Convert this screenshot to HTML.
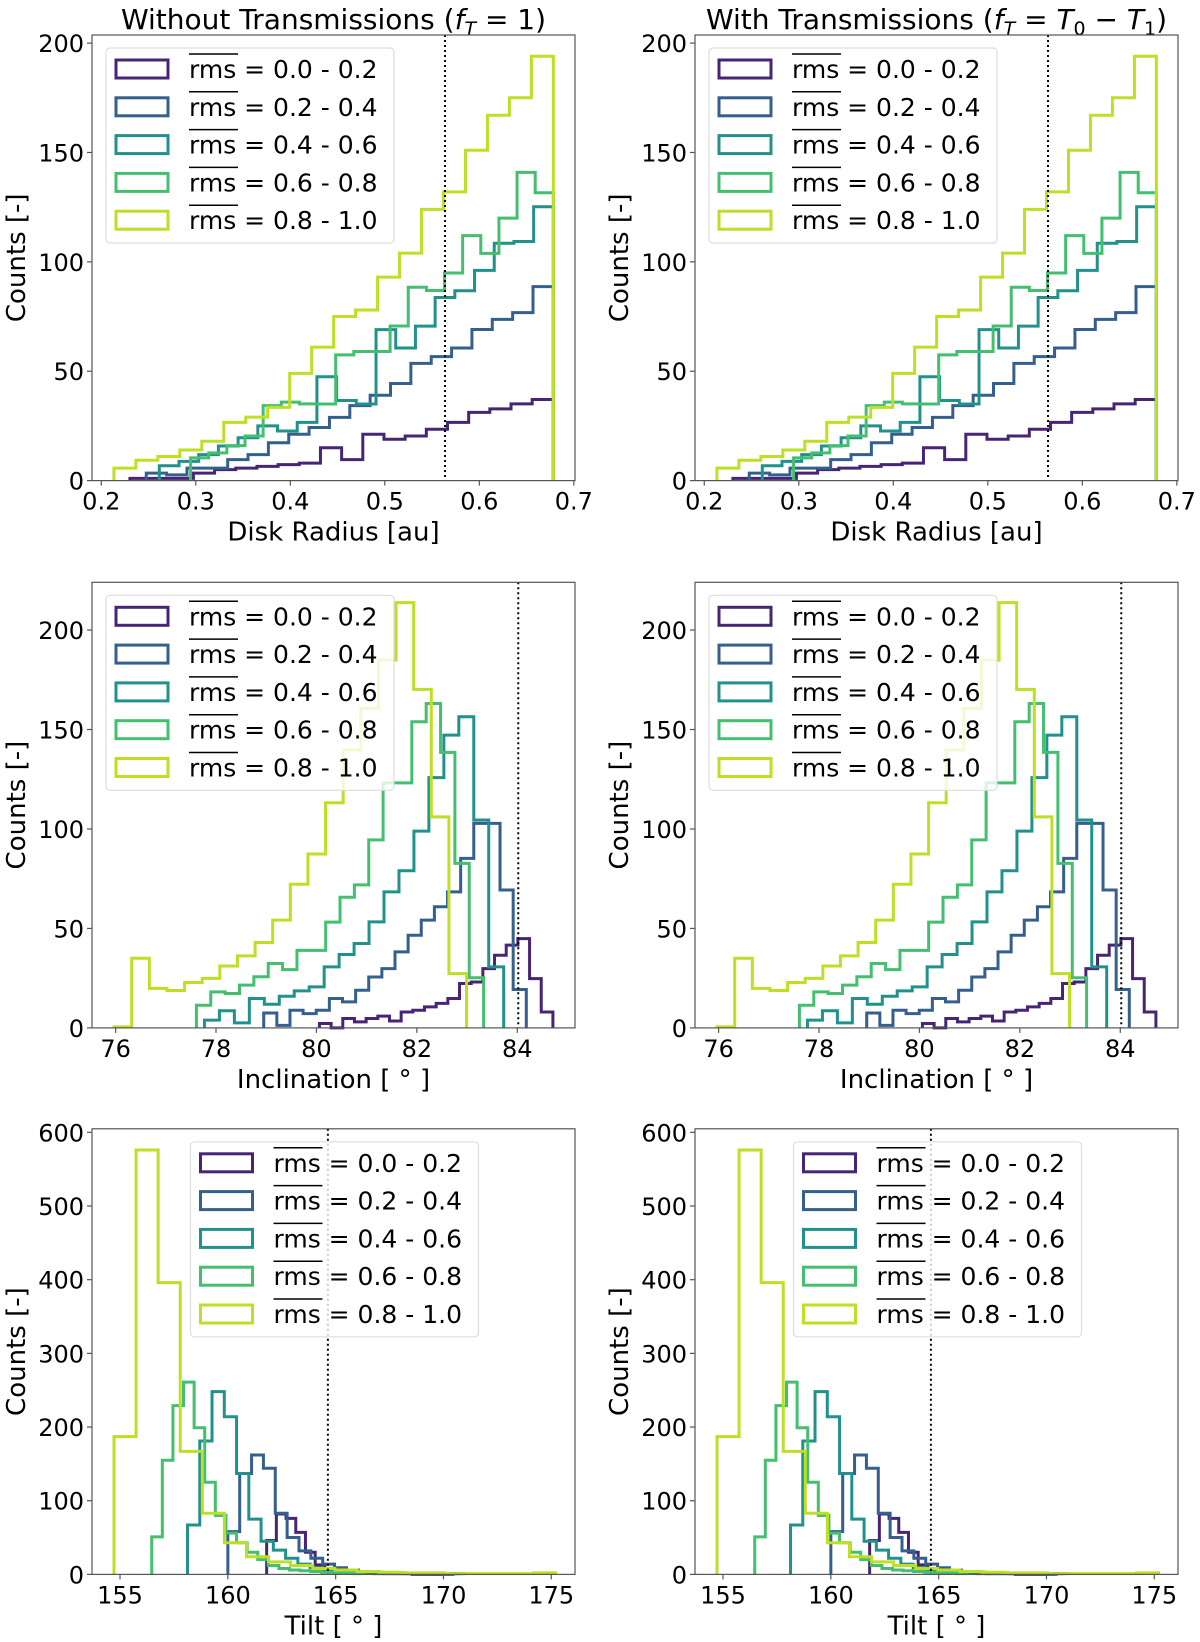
<!DOCTYPE html>
<html><head><meta charset="utf-8">
<style>
html,body{margin:0;padding:0;background:#fff;}
svg{display:block;font-family:"DejaVu Sans","Liberation Sans",sans-serif;}
</style></head>
<body>
<svg id="fig" width="1200" height="1642" viewBox="0 0 1200 1642" xmlns="http://www.w3.org/2000/svg"></svg>
<script>
// ---------- data ----------
const legendLabels = ["0.0 - 0.2","0.2 - 0.4","0.4 - 0.6","0.6 - 0.8","0.8 - 1.0"];
const colors = ["#482475","#355f8d","#21918c","#44bf70","#bddf26"];

// Disk radius histograms (20 bins each), [lo, hi] ranges in au
const radiusRanges = [[0.2303,0.6783],[0.2476,0.6783],[0.2614,0.6783],[0.2945,0.6783],[0.2134,0.6783]];
const radiusP = [1,1,1,3.4,5,5.7,6.5,7.3,8,15,9.6,21.2,18.9,20.4,23.5,26.6,31.2,32.8,35.1,37.1];
const radiusB = [3.4,2.6,5.7,5.7,9.6,11.9,17.3,21.2,24.3,28.9,34.3,39,44.4,53.6,56.7,60.6,69.1,73.7,76.8,88.7];
const radiusT = [6.8,8.8,11.9,15.8,19.6,25,22.7,26.6,47.5,36.6,35,69,60.6,70.6,83.7,86.8,96.1,108.5,109.3,125.2];
const radiusG = [10.4,12.7,16,20.4,34.3,35.9,35.1,35,57.5,59,59,70.7,88.4,86.9,94.9,112,103.9,120,140.9,131.6];
const radiusY = [5.7,9.3,11,14,18,26.6,29,33.5,49,61,75,78,93,104,124,132,151,167,175,194];

// Inclination histograms
const inclRanges = [[80.06,84.71],[78.95,84.18],[77.77,83.73],[77.61,83.33],[75.97,82.99]];
const inclP = [2.2,0,4.7,3,4.7,5.9,3.5,8,8.9,10.6,12.3,14.8,22.3,23.1,29.8,36.5,41.6,44.9,24.8,8];
const inclB = [7.5,1.3,8.9,7.2,8.9,14.8,13.1,18.9,25.6,29.8,38.2,46.6,54.2,60.9,68.4,85.2,102.8,102.8,69.3,19.3];
const inclT = [3.9,8.6,2.5,14.8,11.9,15.9,18.6,20.6,30.7,36.9,42.4,53.3,68.4,79,98.9,125.8,147.2,156.4,104.5,30.7];
const inclG = [11.4,18.1,17.3,21.5,25.7,32.4,29.3,39,39,53.2,65.7,71.9,94.5,123.2,123.2,153.9,163.1,138.5,82.7,25.2];
const inclY = [0.5,35,19.9,18.8,22.8,24.9,31.1,36.2,42.9,54.2,72.2,87.4,113.2,139.7,160.6,184.9,213.8,170.2,106.1,27.3];

// Tilt histograms
const tiltRanges = [[161.8,170.8],[160.0,171.0],[158.13,169.5],[156.47,166.3],[154.72,175.2]];
const tiltP = [46,82,76,57,30,13,8,5,3,2,2,1,1,1,1,0,0,0,0,1];
const tiltB = [58,137,162,144,83,50,32,22,14,9,6,4,3,2,2,1,1,1,0,1];
const tiltT = [67,181,248,214,137,75,45,33,22,14,9,6,4,3,2,2,1,1,1,1];
const tiltG = [51,155,229,261,199,125,80,56,43,30,20,12,8,6,5,4,3,2,2,1];
const tiltY = [187,576,396,167,83,43,24,17,12,8,6,4,3,2,2,1,1,1,1,2];

// axis limits / ticks / reference lines
const radiusXlim = [0.1902,0.7012], radiusYmax = 203.7;
const inclXlim = [75.53,85.15], inclYmax = 224;
const tiltXlim = [153.7,176.1], tiltYmax = 604.8;
const radiusXticks = [0.2,0.3,0.4,0.5,0.6,0.7], radiusYticks = [0,50,100,150,200];
const inclXticks = [76,78,80,82,84], inclYticks = [0,50,100,150,200];
const tiltXticks = [155,160,165,170,175], tiltYticks = [0,100,200,300,400,500,600];
const radiusRef = 0.5637, inclRef = 84.02, tiltRef = 164.64;

// ---------- drawing ----------
const NS = "http://www.w3.org/2000/svg";
const svg = document.getElementById('fig');
function mk(tag, attrs, parent){
  const e = document.createElementNS(NS, tag);
  for (const k in attrs) e.setAttribute(k, attrs[k]);
  (parent||svg).appendChild(e);
  return e;
}
const panels = [
  {key:'radius', row:0, top:35, xlim:radiusXlim, ymax:radiusYmax, xt:radiusXticks, yt:radiusYticks, ref:radiusRef, ranges:radiusRanges, series:[radiusP,radiusB,radiusT,radiusG,radiusY], xlabel:'Disk Radius [au]', fmt:v=>v.toFixed(1), legX:14},
  {key:'inclination', row:1, top:582.3, xlim:inclXlim, ymax:inclYmax, xt:inclXticks, yt:inclYticks, ref:inclRef, ranges:inclRanges, series:[inclP,inclB,inclT,inclG,inclY], xlabel:'Inclination [ ° ]', fmt:v=>String(v), legX:14},
  {key:'tilt', row:2, top:1128.8, xlim:tiltXlim, ymax:tiltYmax, xt:tiltXticks, yt:tiltYticks, ref:tiltRef, ranges:tiltRanges, series:[tiltP,tiltB,tiltT,tiltG,tiltY], xlabel:'Tilt [ ° ]', fmt:v=>String(v), legX:98.5}
];
const W = 483, H = 445.6;
const colLefts = [92, 695];

colLefts.forEach((L, ci) => {
  const t = mk('text', {x: L + W/2, y: 29, 'text-anchor':'middle', 'font-size':28, fill:'#000'});
  
  
  if (ci===0) {
    t.innerHTML = 'Without Transmissions (<tspan font-style="italic">f</tspan><tspan font-style="italic" font-size="19" dy="6">T</tspan><tspan dy="-6"> = 1)</tspan>';
  } else {
    t.innerHTML = 'With Transmissions (<tspan font-style="italic">f</tspan><tspan font-style="italic" font-size="19" dy="6">T</tspan><tspan dy="-6"> = </tspan><tspan font-style="italic">T</tspan><tspan font-size="19" dy="6">0</tspan><tspan dy="-6"> − </tspan><tspan font-style="italic">T</tspan><tspan font-size="19" dy="6">1</tspan><tspan dy="-6">)</tspan>';
  }

  panels.forEach(p => {
    const g = mk('g', {});
    
    
    const T = p.top, B = T + H;
    const xs = v => L + (v - p.xlim[0]) / (p.xlim[1] - p.xlim[0]) * W;
    const ys = v => B - v / p.ymax * H;

    p.series.forEach((counts, si) => {
      const [lo, hi] = p.ranges[si];
      const n = counts.length, w = (hi - lo) / n;
      let d = `M${xs(lo)},${ys(0)}`;
      counts.forEach((c, i) => { d += ` V${ys(c)} H${xs(lo + (i+1)*w)}`; });
      d += ` V${ys(0)}`;
      const path = mk('path', {d, fill:'none', stroke:colors[si], 'stroke-width':3, 'stroke-linejoin':'miter'}, g);
      
      
    });

    const rl = mk('line', {x1:xs(p.ref), x2:xs(p.ref), y1:T, y2:B, stroke:'#000', 'stroke-width':2, 'stroke-dasharray':'2,3'}, g);
    
    

    const fr = mk('rect', {x:L, y:T, width:W, height:H, fill:'none', stroke:'#555', 'stroke-width':1.2}, g);
    
    

    p.xt.forEach(v => {
      const x = xs(v);
      mk('line', {x1:x, x2:x, y1:B, y2:B+5, stroke:'#555', 'stroke-width':1.2}, g);
      const tl = mk('text', {x, y:B+29, 'text-anchor':'middle', 'font-size':24, fill:'#000'}, g);
      tl.textContent = p.fmt(v);
      
      
    });
    p.yt.forEach(v => {
      const y = ys(v);
      mk('line', {x1:L-5, x2:L, y1:y, y2:y, stroke:'#555', 'stroke-width':1.2}, g);
      const tl = mk('text', {x:L-8, y:y+9, 'text-anchor':'end', 'font-size':24, fill:'#000'}, g);
      tl.textContent = String(v);
      
      
    });
    const xl = mk('text', {x:L+W/2, y:B+60, 'text-anchor':'middle', 'font-size':26, fill:'#000'}, g);
    xl.textContent = p.xlabel;
    
    
    const ycx = L - 76, ycy = T + H/2;
    const yl = mk('text', {x:ycx, y:ycy+9, 'text-anchor':'middle', 'font-size':26, fill:'#000', transform:`rotate(-90 ${ycx} ${ycy})`}, g);
    yl.textContent = 'Counts [-]';
    
    

    const lx = L + p.legX, ly = T + 13;
    const lg = mk('g', {}, g);
    
    
    mk('rect', {x:lx, y:ly, width:288, height:195, rx:4, fill:'#fff', 'fill-opacity':0.8, stroke:'#ddd', 'stroke-width':1.2}, lg);
    legendLabels.forEach((lab, i) => {
      const cy = ly + 21 + i*37.8;
      const e = mk('g', {}, lg);
      
      
      mk('rect', {x:lx+10, y:cy-9, width:52, height:18, fill:'none', stroke:colors[i], 'stroke-width':3}, e);
      const tx = lx + 83;
      mk('line', {x1:tx, x2:tx+49, y1:cy-15, y2:cy-15, stroke:'#000', 'stroke-width':1.5}, e);
      const tt = mk('text', {x:tx, y:cy+9, 'font-size':25, fill:'#000'}, e);
      tt.textContent = 'rms = ' + lab;
    });
  });
});
</script>
</body></html>
